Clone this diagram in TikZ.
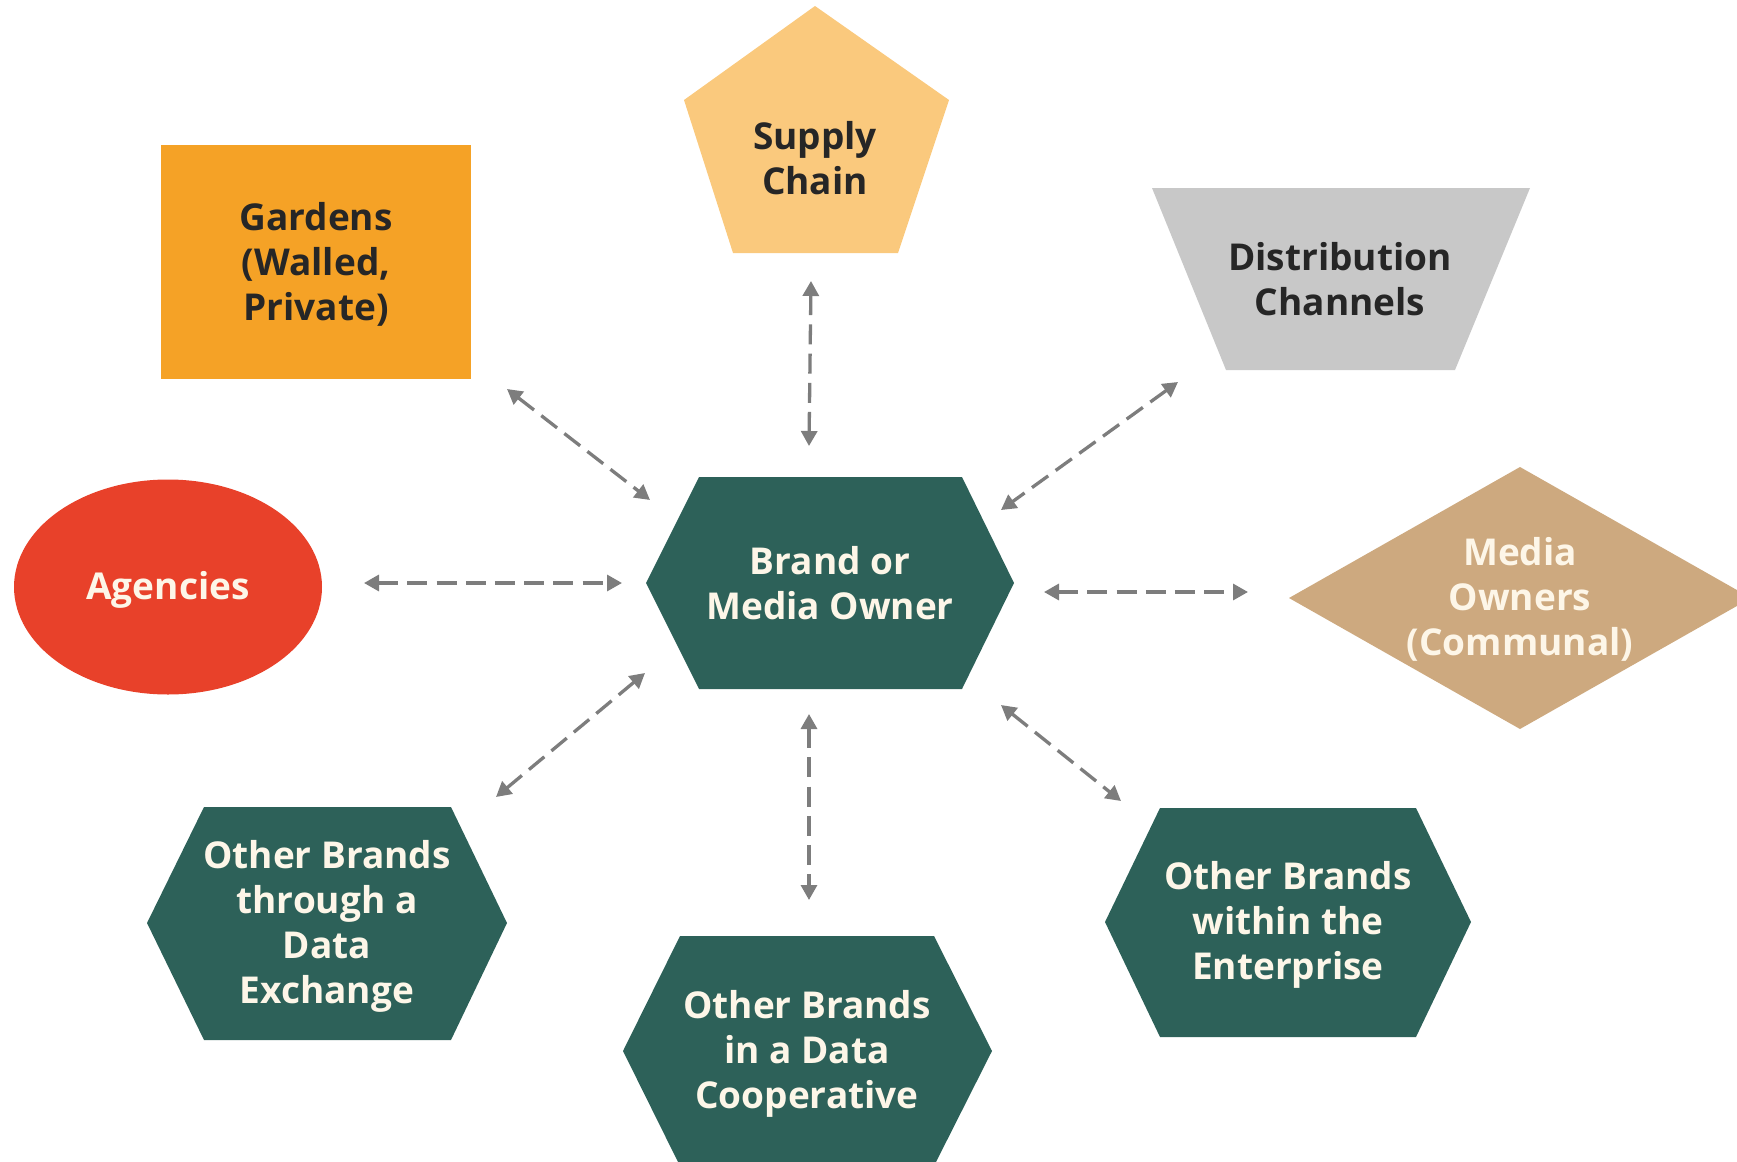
\documentclass[tikz,border=0pt]{standalone}
\usepackage{fontspec}
\setmainfont{Open Sans}
\usetikzlibrary{arrows.meta}
\definecolor{hexgreen}{RGB}{45,97,89}
\definecolor{gardenor}{RGB}{245,162,38}
\definecolor{supplyor}{RGB}{250,201,125}
\definecolor{distgrey}{RGB}{200,200,200}
\definecolor{agencyred}{RGB}{232,65,42}
\definecolor{mediatan}{RGB}{205,169,127}
\definecolor{creamtxt}{RGB}{253,246,232}
\definecolor{darktxt}{RGB}{38,38,38}
\definecolor{arrowgrey}{RGB}{125,125,125}
\tikzset{
  lbl/.style={align=center, inner sep=0pt, font=\bfseries\fontsize{18.5}{22.5}\selectfont},
  lightlbl/.style={lbl, text=creamtxt},
  darklbl/.style={lbl, text=darktxt},
  link/.style={draw=arrowgrey, line width=1.65pt, dash pattern=on 10pt off 4.6pt,
    {Triangle[length=7.5pt,width=8pt]}-{Triangle[length=7.5pt,width=8pt]}},
}
\begin{document}
\begin{tikzpicture}[x=0.5pt,y=-0.5pt]
\useasboundingbox (0,0) rectangle (1737,1162);
\clip (0,0) rectangle (1737,1162);
% shapes
\fill[gardenor] (161,145) rectangle (471,379);
\fill[supplyor] (815,6) -- (949,100) -- (898,253) -- (733,253) -- (684,100) -- cycle;
\fill[distgrey] (1152,188) -- (1530,188) -- (1455,370) -- (1226,370) -- cycle;
\fill[agencyred] (168,587) ellipse [x radius=77pt, y radius=53.75pt];
\fill[mediatan] (1520,467) -- (1751,598) -- (1520,729) -- (1289,598) -- cycle;
\fill[hexgreen] (646,583) -- (699,477) -- (962,477) -- (1014,583) -- (962,689) -- (699,689) -- cycle;
\fill[hexgreen] (147,923) -- (204,807) -- (451,807) -- (507,923) -- (451,1040) -- (204,1040) -- cycle;
\fill[hexgreen] (623,1051) -- (680,936) -- (934,936) -- (992,1051) -- (934,1166) -- (680,1166) -- cycle;
\fill[hexgreen] (1105,922) -- (1160,808) -- (1416,808) -- (1471,922) -- (1416,1037) -- (1160,1037) -- cycle;
% labels
\node[darklbl] (gardens) at (316,264) {Gardens\\(Walled,\\Private)};
\node[darklbl] (supply) at (815,158) {Supply\\Chain};
\node[darklbl] (distr) at (1340,279) {Distribution\\Channels};
\node[lightlbl] (agencies) at (168,590) {Agencies};
\node[lightlbl] (media) at (1520,599) {Media\\Owners\\(Communal)};
\node[lightlbl] (brand) at (830,583) {Brand or\\Media Owner};
\node[lightlbl] (exchange) at (327,926) {Other Brands\\through a\\Data\\Exchange};
\node[lightlbl] (coop) at (807,1054) {Other Brands\\in a Data\\Cooperative};
\node[lightlbl] (enterprise) at (1288,925) {Other Brands\\within the\\Enterprise};
% connector ends
\coordinate (supplyEnd) at (811,281);   \coordinate (brandN) at (809,446);
\coordinate (gardensEnd) at (507,389);  \coordinate (brandNW) at (650,500);
\coordinate (distrEnd) at (1178,382);   \coordinate (brandNE) at (1001,510);
\coordinate (agenciesEnd) at (364,583); \coordinate (brandW) at (622,583);
\coordinate (brandE) at (1044,592);     \coordinate (mediaEnd) at (1248,592);
\coordinate (brandSW) at (645,673);     \coordinate (exchangeEnd) at (496,797);
\coordinate (brandS) at (809,714);      \coordinate (coopEnd) at (809,900);
\coordinate (brandSE) at (1001,705);    \coordinate (enterpriseEnd) at (1121,801);
% connectors
\draw[link] (supplyEnd) -- (brandN);
\draw[link] (gardensEnd) -- (brandNW);
\draw[link] (distrEnd) -- (brandNE);
\draw[link] (agenciesEnd) -- (brandW);
\draw[link] (brandE) -- (mediaEnd);
\draw[link] (brandSW) -- (exchangeEnd);
\draw[link] (brandS) -- (coopEnd);
\draw[link] (brandSE) -- (enterpriseEnd);
\end{tikzpicture}
\end{document}
